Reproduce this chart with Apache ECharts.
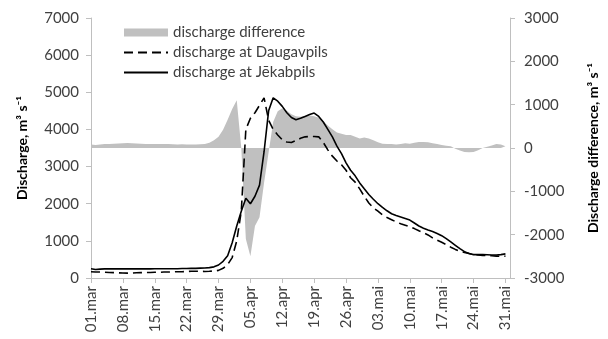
<!DOCTYPE html>
<html>
<head>
<meta charset="utf-8">
<script src="https://cdn.jsdelivr.net/npm/echarts@6/dist/echarts.min.js"></script>
<style>
  html, body { margin: 0; padding: 0; background: #fff; }
  #chart { width: 608px; height: 339px; }
</style>
</head>
<body>
<div id="chart"></div>
<script>
// daily values, 01.mar .. 31.mai
var jekabpils = [
    250, 230, 240, 245, 245, 245, 245, 245, 245, 245,
    245, 245, 245, 245, 250, 250, 250, 250, 250, 250,
    255, 255, 260, 260, 265, 270, 280, 300, 350, 450,
    600, 950, 1400, 1800, 2150, 2000, 2200, 2500, 3400, 4500,
    4850, 4760, 4620, 4450, 4320, 4260, 4300, 4350, 4400, 4440,
    4350, 4200, 4000, 3800, 3550, 3350, 3100, 2900, 2750, 2560,
    2400, 2250, 2120, 2000, 1900, 1810, 1730, 1680, 1640, 1600,
    1560, 1480, 1400, 1340, 1290, 1250, 1200, 1140, 1060, 970,
    880, 790, 710, 660, 630, 630, 630, 625, 620, 620,
    630, 650
];
var daugavpils = [
    170, 160, 160, 155, 150, 145, 140, 135, 130, 135,
    140, 145, 150, 150, 155, 155, 160, 160, 165, 170,
    170, 175, 180, 180, 180, 175, 180, 190, 205, 260,
    360, 550, 1000, 1800, 4000, 4300, 4450, 4650, 4850, 4250,
    4000, 3850, 3720, 3660, 3650, 3700, 3760, 3800, 3810, 3810,
    3800, 3650, 3450, 3280, 3150, 3050, 2900, 2700, 2580, 2400,
    2200, 2020, 1890, 1800, 1700, 1630, 1570, 1510, 1460, 1420,
    1380, 1330, 1270, 1220, 1160, 1080, 1020, 960, 900, 830,
    770, 720, 690, 660, 630, 620, 610, 610, 600, 590,
    580, 590
];
var difference = [
    80, 70, 80, 90, 95, 100, 105, 110, 115, 110,
    105, 100, 95, 95, 95, 95, 90, 90, 85, 80,
    85, 80, 80, 80, 85, 95, 120, 180, 260, 420,
    650, 900, 1100, 0, -2100, -2500, -1800, -1600, -800, -100,
    600, 850, 920, 860, 780, 730, 720, 740, 750, 730,
    700, 620, 520, 430, 360, 330, 300, 300, 260, 220,
    240, 220, 180, 130, 100, 90, 90, 80, 90, 110,
    100, 120, 140, 140, 130, 110, 90, 70, 50, 40,
    -20, -60, -90, -100, -90, -50, 0, 30, 60, 90,
    80, 40
];

var monthNames = ['mar', 'apr', 'mai', 'jun'];
var monthDays = [31, 30, 31, 1];

// category labels dd.mon, one per day (plus 01.jun as axis end)
var dates = [];
monthNames.forEach(function (m, k) {
    for (var d = 1; d <= monthDays[k]; d++) {
        dates.push((d < 10 ? '0' + d : '' + d) + '.' + m);
    }
});

var FONT = 'Lato';
var TXT = '#404040';
var AXIS = '#bfbfbf';

function plainNumber(v) {
    return String(v);
}

var chart = echarts.init(document.getElementById('chart'));

var option = {
    animation: false,
    textStyle: { fontFamily: FONT },
    grid: { left: 91, right: 95, top: 18, bottom: 61, containLabel: false },
    legend: {
        orient: 'vertical',
        left: 118,
        top: 20,
        itemWidth: 44,
        itemHeight: 8,
        itemGap: 5,
        textStyle: { fontFamily: FONT, fontSize: 15, color: TXT },
        data: [
            { name: 'discharge difference', icon: 'rect' },
            { name: 'discharge at Daugavpils', itemStyle: { opacity: 0 } },
            { name: 'discharge at Jēkabpils', itemStyle: { opacity: 0 } }
        ]
    },
    xAxis: {
        type: 'category',
        data: dates,
        boundaryGap: false,
        axisLine: { lineStyle: { color: AXIS, width: 1 } },
        axisTick: { interval: 6, length: 5, lineStyle: { color: AXIS } },
        axisLabel: {
            interval: 6,
            rotate: 90,
            fontSize: 15,
            color: TXT,
            fontFamily: FONT,
            margin: 8
        }
    },
    yAxis: [
        {
            type: 'value',
            min: 0,
            max: 7000,
            interval: 1000,
            name: 'Discharge, m³ s⁻¹',
            nameLocation: 'middle',
            nameRotate: 90,
            nameGap: 62,
            nameTextStyle: { fontFamily: FONT, fontSize: 14, fontWeight: 'bold', color: '#000' },
            axisLine: { show: true, lineStyle: { color: AXIS } },
            axisTick: { show: true, length: 5, lineStyle: { color: AXIS } },
            axisLabel: { fontSize: 15, color: TXT, fontFamily: FONT, margin: 12, formatter: plainNumber },
            splitLine: { show: false }
        },
        {
            type: 'value',
            min: -3000,
            max: 3000,
            interval: 1000,
            position: 'right',
            name: 'Discharge difference, m³ s⁻¹',
            nameLocation: 'middle',
            nameRotate: 90,
            nameGap: 76,
            nameTextStyle: { fontFamily: FONT, fontSize: 14, fontWeight: 'bold', color: '#000' },
            axisLine: { show: true, lineStyle: { color: AXIS } },
            axisTick: { show: true, length: 5, lineStyle: { color: AXIS } },
            axisLabel: { fontSize: 15, color: TXT, fontFamily: FONT, margin: 14, formatter: plainNumber },
            splitLine: { show: false }
        }
    ],
    series: [
        {
            name: 'discharge difference',
            type: 'line',
            yAxisIndex: 1,
            data: difference,
            symbol: 'none',
            color: '#c0c0c0',
            lineStyle: { width: 0 },
            areaStyle: { color: '#c0c0c0', opacity: 1 },
            z: 1
        },
        {
            name: 'discharge at Daugavpils',
            type: 'line',
            data: daugavpils,
            symbol: 'none',
            color: '#000',
            lineStyle: { color: '#000', width: 1.6, type: [9, 5] },
            z: 3
        },
        {
            name: 'discharge at Jēkabpils',
            type: 'line',
            data: jekabpils,
            symbol: 'none',
            color: '#000',
            lineStyle: { color: '#000', width: 1.6 },
            z: 4
        }
    ]
};

chart.setOption(option);

window.onresize = function () {
    chart.resize();
};
</script>
</body>
</html>
